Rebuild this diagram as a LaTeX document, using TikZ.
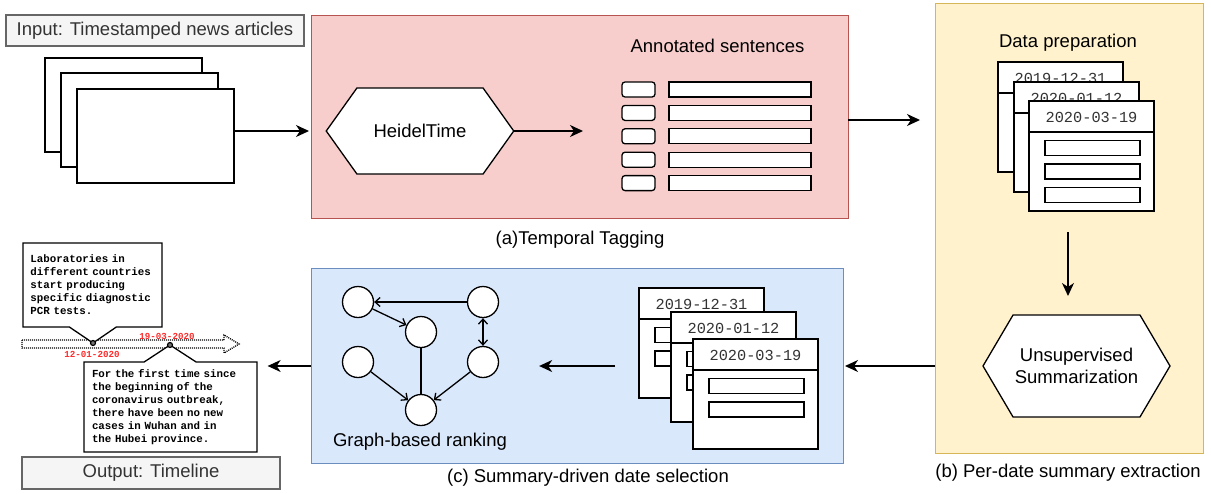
\documentclass[tikz,border=0pt]{standalone}
\usepackage{fontspec}
\setmainfont{Liberation Sans}
\setmonofont{Liberation Mono}
\usepackage{tikz}
\usepackage{color}
\usetikzlibrary{arrows.meta,shapes.symbols,shapes.callouts}

\definecolor{tagfill}{HTML}{F8CECC}
\definecolor{tagline}{HTML}{B85450}
\definecolor{extfill}{HTML}{FFF2CC}
\definecolor{extline}{HTML}{D6B656}
\definecolor{selfill}{HTML}{DAE8FC}
\definecolor{selline}{HTML}{6C8EBF}
\definecolor{iofill}{HTML}{F5F5F5}
\definecolor{ioline}{HTML}{666666}
\definecolor{iotext}{HTML}{333333}
\definecolor{datered}{HTML}{FF2A2A}

% one sheet of a per-date stack: name, top left corner, date, rows
\newcommand{\datecard}[4]{%
  \node[sheet, anchor=north west, minimum width=125, minimum height=110] (#1) at (#2) {};
  \draw[line width=1.3pt] ([yshift=-31pt]#1.north west) -- ([yshift=-31pt]#1.north east);
  \node[datetxt] at ([yshift=-16pt]#1.north) {#3};
  \foreach \k in {1,...,#4}
    \node[sheet, minimum width=95, minimum height=15] at ([xshift=1pt,yshift=-47pt-23.5pt*(\k-1)]#1.north) {};
}

\begin{document}
\begin{tikzpicture}[x=1pt, y=-1pt,
  big/.style={font=\fontsize{18.5}{22}\selectfont},
  iobox/.style={big, draw=ioline, fill=iofill, text=iotext, line width=1.2pt, inner sep=0pt},
  stage/.style={draw=#1line, fill=#1fill, line width=1pt, inner sep=0pt, outer sep=0pt},
  sheet/.style={draw, fill=white, line width=1.3pt, inner sep=0pt, outer sep=0pt},
  datetxt/.style={font=\ttfamily\fontsize{15.3}{18}\selectfont, text=iotext},
  hexa/.style={big, draw, fill=white, line width=1.3pt, shape=signal, signal to=east and west,
    inner sep=0pt, outer sep=0pt, align=center},
  arr/.style={-{Stealth[length=13pt,width=12pt,inset=4pt]}, line width=1.3pt},
  garr/.style={-{Straight Barb[length=5pt,width=9pt]}, line width=1.3pt},
  gboth/.style={{Straight Barb[length=5pt,width=9pt]}-{Straight Barb[length=5pt,width=9pt]}, line width=1.3pt},
  vertex/.style={circle, draw, fill=white, line width=1.3pt, minimum size=31, inner sep=0pt},
  callout/.style={rectangle callout, draw, fill=white, line width=1.3pt, align=left,
    font=\ttfamily\bfseries\fontsize{10.8}{13}\selectfont, inner xsep=7.5pt},
  reddate/.style={font=\ttfamily\bfseries\fontsize{9.2}{11}\selectfont, text=datered}]
\useasboundingbox (0,0) rectangle (1211,493);

% input
\node[iobox, minimum width=298, minimum height=31] (input) at (155,30.5) {Input: Timestamped news articles};
\node[sheet, anchor=north west, minimum width=157, minimum height=94] (doc1) at (45,58) {};
\node[sheet, anchor=north west, minimum width=157, minimum height=94] (doc2) at (61,73) {};
\node[sheet, anchor=north west, minimum width=157, minimum height=94] (doc3) at (77,89) {};

% (a) temporal tagging
\node[stage=tag, minimum width=537, minimum height=203] (tagging) at (579.5,116.5) {};
\node at (580,240) [big] {(a)Temporal Tagging};
\node[hexa, signal pointer angle=109, minimum width=187.5, minimum height=86] (heidel) at (420,131) {HeidelTime};
\node[big] (annot) at (717.5,46) {Annotated sentences};
\foreach \i in {1,...,5} {
  \node[sheet, rounded corners=3pt, minimum width=33, minimum height=15] (tag\i) at (638.5,66.1+23.4*\i) {};
  \node[sheet, minimum width=142, minimum height=15] (sent\i) at (740,66.1+23.4*\i) {};
}
\draw[arr, shorten >=2pt] (doc3.east |- heidel.west) -- (tagging.west |- heidel.west);
\draw[arr, shorten >=39pt] (heidel.east) -- (heidel.east -| tag3.west);

% (b) per-date summary extraction
\node[stage=ext, minimum width=268, minimum height=450] (extract) at (1069,228) {};
\node at (1068,473) [big] {(b) Per-date summary extraction};
\node[big] (prep) at (1068,43) {Data preparation};
\datecard{ya}{998,62}{2019-12-31}{3}
\datecard{yb}{1014,82}{2020-01-12}{3}
\datecard{yc}{1029,101}{2020-03-19}{3}
\node[hexa, signal pointer angle=119, minimum width=187, minimum height=102] (unsup) at (1076.5,366) {Unsupervised\\Summarization};
\draw[arr, shorten >=15pt] ([yshift=-3.5pt]tagging.east) -- ([yshift=-3.5pt]tagging.east -| extract.west);
\draw[arr, shorten <=21pt, shorten >=19pt] (prep.center |- yc.south) -- (prep.center |- unsup.north);

% (c) summary-driven date selection
\node[stage=sel, minimum width=532, minimum height=195] (select) at (577,365.5) {};
\node at (588,478) [big] {(c) Summary-driven date selection};
\datecard{ba}{639,288}{2019-12-31}{2}
\datecard{bb}{671,312}{2020-01-12}{2}
\datecard{bc}{693,339}{2020-03-19}{2}
\node[vertex] (gA) at (358,302) {};
\node[vertex] (gB) at (483,302) {};
\node[vertex] (gC) at (421,332) {};
\node[vertex] (gD) at (358,362) {};
\node[vertex] (gE) at (483,362) {};
\node[vertex] (gF) at (421,410) {};
\node[big] (rank) at (420,442) {Graph-based ranking};
\draw[garr] (gB) -- (gA);
\draw[garr] (gA) -- (gC);
\draw[line width=1.3pt] (gC) -- (gF);
\draw[gboth] (gB) -- (gE);
\draw[garr] (gD) -- (gF);
\draw[garr] (gE) -- (gF);
\draw[arr, shorten >=2pt] (extract.west |- unsup) -- (select.east |- unsup);
\draw[arr, shorten <=24pt, shorten >=40pt] (ba.west |- unsup) -- (gE.east |- unsup);

% output: timeline
\node[iobox, minimum width=258, minimum height=32] (output) at (151,473) {Output: Timeline};
\draw[line width=1.3pt, dash pattern=on 1pt off 1pt, fill=white] (22,340) -- (224,340) -- (224,335) -- (239,344)
  -- (224,353) -- (224,348) -- (22,348) -- cycle;
\coordinate (m1) at (93,343);
\coordinate (m2) at (170,345);
\node[callout, minimum width=139, minimum height=84, text width=124, callout absolute pointer={(m1)},
  callout pointer width=47] (callA) at (92.5,285)
  {Laboratories in\\different countries\\start producing\\specific diagnostic\\PCR tests.};
\node[callout, minimum width=173, minimum height=90, text width=157, callout absolute pointer={(m2)},
  callout pointer width=52] (callB) at (170.5,407)
  {For the first time since\\the beginning of the\\coronavirus outbreak,\\there have been no new\\cases in Wuhan and in\\the Hubei province.};
\draw[line width=1.2pt, fill=black!55] (m1) circle (2.5pt);
\draw[line width=1.2pt, fill=black!55] (m2) circle (2.5pt);
\node[reddate] (d1) at (92,354) {12-01-2020};
\node[reddate] (d2) at (167,336) {19-03-2020};
\draw[arr, shorten >=10pt] (select.west |- unsup) -- (callB.east |- unsup);
\end{tikzpicture}
\end{document}
